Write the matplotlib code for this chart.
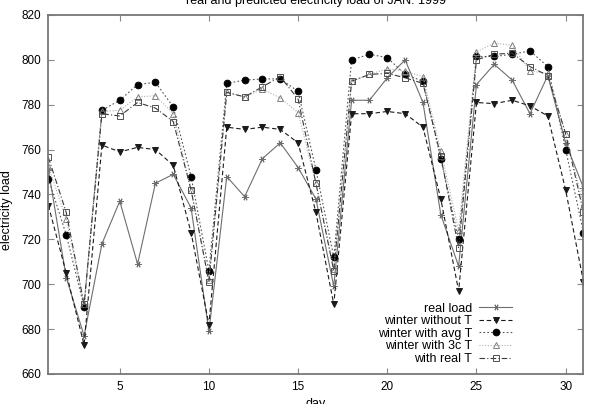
import matplotlib
matplotlib.use("Agg")
import matplotlib.pyplot as plt

plt.rcParams["font.family"] = ["Liberation Sans", "DejaVu Sans"]

days = list(range(1, 32))

real_load = [751, 703, 677, 718, 737, 709, 745, 749, 734, 679,
             748, 739, 756, 763, 752, 738, 699, 782, 782, 792,
             800, 781, 731, 708, 789, 798, 791, 776, 793, 763, 743]
without_t = [735, 705, 673, 762, 759, 761, 760, 753, 723, 682,
             770, 769, 770, 769, 763, 732, 691, 776, 776, 777,
             776, 770, 738, 697, 781, 780.5, 782, 779.5, 775, 742, 701]
avg_t = [747, 722, 690, 777.5, 782, 789, 790, 779, 748, 706,
         789.5, 791, 791.5, 791.5, 786, 751, 712, 800, 802.5, 801,
         793.5, 790.5, 756, 720, 801.5, 801.5, 802.5, 804, 797, 760, 723]
three_c_t = [752.5, 729, 691, 777, 777.5, 783.5, 784, 776, 742, 702,
             785.5, 783.5, 787, 783, 776.5, 745, 707, 790.5, 793.5, 796,
             795, 792.5, 759.5, 724, 803.5, 807.5, 806.5, 795, 794, 767, 735]
real_t = [756.5, 732, 691, 776, 775, 781, 778.5, 772.5, 742, 701,
          785.5, 783.5, 788, 792.5, 782.5, 745, 706, 790.5, 793.5, 794,
          792, 789.5, 757, 716, 800, 802.5, 803, 797, 793, 767, 732]

series = [
    ("real load", real_load, dict(color="#6e6e6e", ls="-", marker=(6, 2, 90), ms=4.5, mfc="none")),
    ("winter without T", without_t, dict(color="#1a1a1a", ls=(0, (4, 2.5)), marker="v", ms=4)),
    ("winter with avg T", avg_t, dict(color="#555555", ls=(0, (1.5, 2)), marker="o", ms=4.8,
                                      mfc="black", mec="black")),
    ("winter with 3c T", three_c_t, dict(color="#b0b0b0", ls=(0, (1, 1.5)), marker="^", ms=4.5,
                                         mfc="none", mec="#808080")),
    ("with real T", real_t, dict(color="#3a3a3a", ls=(0, (5, 2, 1, 2)), marker="s", ms=4.3,
                                 mfc="none", mec="#505050")),
]

fig = plt.figure(figsize=(5.94, 4.04), dpi=100)
ax = fig.add_axes([0.0815, 0.0743, 0.9008, 0.8886])

for label, vals, style in series:
    ax.plot(days, vals, lw=0.8, label=label, mew=0.7, **style)

ax.set_xlim(1, 31)
ax.set_ylim(660, 820)
ax.set_xticks([5, 10, 15, 20, 25, 30])
ax.set_yticks(range(660, 821, 20))
ax.tick_params(direction="in", length=4, width=0.8, labelsize=8.5, colors="#888888",
               labelcolor="black", top=True, right=True, pad=5)
for sp in ax.spines.values():
    sp.set_color("#777777")
    sp.set_linewidth(1.3)

leg = ax.legend(loc="lower right", bbox_to_anchor=(0.866, 0.025), frameon=False,
                markerfirst=False, numpoints=1, handlelength=2.6, handletextpad=0.6,
                labelspacing=0.05, fontsize=9, borderpad=0, borderaxespad=0)

# title and x label are cut by the figure edge, as in the original
fig.text(0.532, 0.989, "real and predicted electricity load of JAN. 1999",
         ha="center", va="baseline", fontsize=9)
fig.text(0.0126, 0.48, "electricity load", rotation=90, ha="center", va="center", fontsize=9)
fig.text(0.532, 0.016, "day", ha="center", va="top", fontsize=9)

fig.savefig("out.png", dpi=100)
